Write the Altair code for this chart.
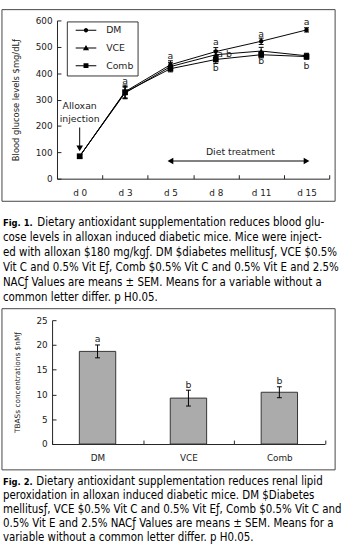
import altair as alt
import pandas as pd

# ---------------- Fig. 1: blood glucose over time ----------------
days = ["d 0", "d 3", "d 5", "d 8", "d 11", "d 15"]
series_names = ["DM", "VCE", "Comb"]
dm_glucose = [85, 330, 432, 482, 521, 564]
vce_glucose = [85, 325, 425, 470, 484, 466]
comb_glucose = [85, 328, 417, 452, 470, 463]
dm_sem = [6, 25, 15, 15, 12, 8]
vce_sem = [6, 22, 15, 15, 14, 10]
comb_sem = [6, 22, 12, 15, 12, 10]

# significance letters (placed at glucose levels)
letter_days = ["d 3", "d 5", "d 8", "d 8", "d 11", "d 11", "d 15", "d 15"]
letter_text = ["a", "a", "a", "b", "a", "b", "a", "b"]
letter_level = [371, 465, 517, 420, 550, 446, 595, 427]
side_letter_day = ["d 8"]
side_letter_text = ["a b"]
side_letter_level = [473]

# annotations
inject_day = ["d 0"]
inject_text = ["Alloxan", "injection"]
inject_text_level = [277, 227]
inject_arrow_level = [194, 120]
inject_head_level = [115]
diet_days = ["d 5", "d 15"]
diet_level = 67
diet_label = "Diet treatment"
diet_label_level = 100

# ---------------- Fig. 2: renal TBARS ----------------
groups = ["DM", "VCE", "Comb"]
tbars = [18.7, 9.27, 10.45]
tbars_sem = [1.3, 1.6, 1.1]
tbars_letters = ["a", "b", "b"]
tbars_letter_level = [21.1, 12.0, 12.7]

cap1_head = "Fig. 1."
cap1_lines = [
    "Dietary antioxidant supplementation reduces blood glu-",
    "cose levels in alloxan induced diabetic mice. Mice were inject-",
    "ed with alloxan $180 mg/kg\u0192. DM $diabetes mellitus\u0192, VCE $0.5%",
    "Vit C and 0.5% Vit E\u0192, Comb $0.5% Vit C and 0.5% Vit E and 2.5%",
    "NAC\u0192 Values are means \u00b1 SEM. Means for a variable without a",
    "common letter differ. p H0.05.",
]
cap2_head = "Fig. 2."
cap2_lines = [
    "Dietary antioxidant supplementation reduces renal lipid",
    "peroxidation in alloxan induced diabetic mice. DM $Diabetes",
    "mellitus\u0192, VCE $0.5% Vit C and 0.5% Vit E\u0192, Comb $0.5% Vit C and",
    "0.5% Vit E and 2.5% NAC\u0192 Values are means \u00b1 SEM. Means for a",
    "variable without a common letter differ. p H0.05.",
]

INK = "#222222"
FONT = "DejaVu Sans"
CAP_FONT = "DejaVu Sans Condensed, DejaVu Sans"

# ---------- tables ----------
rows = []
for name, vals, errs in [("DM", dm_glucose, dm_sem),
                         ("VCE", vce_glucose, vce_sem),
                         ("Comb", comb_glucose, comb_sem)]:
    for d, v, e in zip(days, vals, errs):
        rows.append({"day": d, "series": name, "v": v, "lo": v - e, "hi": v + e})
glu = pd.DataFrame(rows)

letters1 = pd.DataFrame({"day": letter_days, "label": letter_text, "v": letter_level})
side1 = pd.DataFrame({"day": side_letter_day, "label": side_letter_text, "v": side_letter_level})
inject_lbl = pd.DataFrame({"day": inject_day * 2, "label": inject_text, "v": inject_text_level})
inject_line = pd.DataFrame({"day": inject_day * 2, "v": inject_arrow_level})
inject_head = pd.DataFrame({"day": inject_day, "v": inject_head_level})
diet_line = pd.DataFrame({"day": diet_days, "v": [diet_level] * 2})
diet_heads = pd.DataFrame({"day": diet_days, "v": [diet_level] * 2, "dir": ["left", "right"]})
diet_lbl = pd.DataFrame({"day": ["d 8"], "label": [diet_label], "v": [diet_label_level]})

tb = pd.DataFrame({"group": groups, "v": tbars,
                   "lo": [m - e for m, e in zip(tbars, tbars_sem)],
                   "hi": [m + e for m, e in zip(tbars, tbars_sem)],
                   "label": tbars_letters, "lv": tbars_letter_level})

one_row = alt.Data(values=[{}])
inward = {"expr": "-4"}

# ---------- Fig. 1 encodings ----------
x_axis1 = alt.Axis(title=None, tickBand="extent", tickSize=inward, labelPadding=14,
                   labelFontSize=9, labelAngle=0, domainColor=INK, tickColor=INK,
                   labelColor=INK)
y_axis1 = alt.Axis(title="Blood glucose levels $mg/dL\u0192", values=[0, 100, 200, 300, 400, 500, 600],
                   tickSize=inward, labelPadding=9, labelFontSize=9, titleFontSize=8.5,
                   titleFontWeight="normal", titlePadding=15, domainColor=INK,
                   tickColor=INK, labelColor=INK, titleColor=INK)
xs1 = alt.Scale(domain=days, paddingInner=0, paddingOuter=0)
ys1 = alt.Scale(domain=[0, 600], nice=False)


def X1():
    return alt.X("day:N", sort=days, scale=xs1, axis=x_axis1)


def Y1(field):
    return alt.Y(f"{field}:Q", scale=ys1, axis=y_axis1)


W1, H1 = 277, 161

frame1 = alt.Chart(one_row).mark_rect(filled=False, color="#444", strokeWidth=1).encode(
    x=alt.value(-56), x2=alt.value(283), y=alt.value(-11), y2=alt.value(184))

lines = alt.Chart(glu).mark_line(color="black", strokeWidth=1).encode(
    x=X1(), y=Y1("v"), detail="series:N")
err_rule = alt.Chart(glu).mark_rule(color="black", strokeWidth=1).encode(
    x=X1(), y=Y1("lo"), y2="hi")
cap_lo = alt.Chart(glu).mark_tick(color="black", thickness=1, size=5, opacity=1).encode(
    x=X1(), y=Y1("lo"))
cap_hi = alt.Chart(glu).mark_tick(color="black", thickness=1, size=5, opacity=1).encode(
    x=X1(), y=Y1("hi"))
points = alt.Chart(glu).mark_point(filled=True, color="black", opacity=1).encode(
    x=X1(), y=Y1("v"),
    shape=alt.Shape("series:N", scale=alt.Scale(domain=series_names,
                                                range=["circle", "triangle-up", "square"]),
                    legend=None),
    size=alt.Size("series:N", scale=alt.Scale(domain=series_names, range=[20, 34, 30]),
                  legend=None))

# legend symbols: a thin bar (line stub) with the series marker centred on it
legend_paths = [
    "M-2.625,-0.13H2.625V0.13H-2.625ZM0.55,0A0.55,0.55,0,1,1,-0.55,0A0.55,0.55,0,1,1,0.55,0Z",
    "M-2.625,-0.13H2.625V0.13H-2.625ZM0,-0.75L0.78,0.55L-0.78,0.55Z",
    "M-2.625,-0.13H2.625V0.13H-2.625ZM-0.625,-0.625H0.625V0.625H-0.625Z",
]
legend_layer = alt.Chart(glu).transform_filter("false").mark_point(
    filled=True, color="black", size=64, opacity=1).encode(
    x=X1(), y=Y1("v"),
    shape=alt.Shape("series:N", scale=alt.Scale(domain=series_names, range=legend_paths),
                    legend=alt.Legend(orient="none", legendX=10, legendY=1, title=None,
                                      symbolSize=64, symbolFillColor="black",
                                      symbolOffset=10.5, labelOffset=15.5,
                                      labelFontSize=9.5, labelFont=FONT,
                                      labelColor=INK, padding=4, rowPadding=6,
                                      strokeColor="#333", fillColor="white",
                                      labelExpr="datum.label + '\u00a0\u00a0'")))

txt1 = alt.Chart(letters1).mark_text(fontSize=9.5, color=INK, font=FONT).encode(
    x=X1(), y=Y1("v"), text="label:N")
side_txt = alt.Chart(side1).mark_text(fontSize=9.5, color=INK, font=FONT, dx=9).encode(
    x=X1(), y=Y1("v"), text="label:N")
inj_txt = alt.Chart(inject_lbl).mark_text(fontSize=9.5, color=INK, font=FONT).encode(
    x=X1(), y=Y1("v"), text="label:N")
inj_line = alt.Chart(inject_line).mark_line(color="black", strokeWidth=1).encode(
    x=X1(), y=Y1("v"))
inj_head = alt.Chart(inject_head).mark_point(shape="triangle-down", filled=True,
                                             color="black", size=45, opacity=1).encode(
    x=X1(), y=Y1("v"))
diet_ln = alt.Chart(diet_line).mark_line(color="black", strokeWidth=1).encode(
    x=X1(), y=Y1("v"))
diet_hd = alt.Chart(diet_heads).mark_point(filled=True, color="black", size=45, opacity=1).encode(
    x=X1(), y=Y1("v"),
    shape=alt.Shape("dir:N", scale=alt.Scale(domain=["left", "right"],
                                             range=["triangle-left", "triangle-right"]),
                    legend=None))
diet_txt = alt.Chart(diet_lbl).mark_text(fontSize=9.5, color=INK, font=FONT, dx=25).encode(
    x=X1(), y=Y1("v"), text="label:N")


def caption(head, lines, y0, step, size, head_size, head_x, body_x):
    layers = [alt.Chart(one_row).mark_text(align="left", baseline="middle", font=CAP_FONT,
                                           fontSize=head_size, fontWeight="bold",
                                           color="black").encode(
        x=alt.value(head_x), y=alt.value(y0), text=alt.value(head))]
    for i, line in enumerate(lines):
        layers.append(alt.Chart(one_row).mark_text(
            align="left", baseline="middle", font=CAP_FONT, fontSize=size, color="black").encode(
            x=alt.value(body_x if i == 0 else head_x), y=alt.value(y0 + i * step),
            text=alt.value(line)))
    return layers


cap1 = caption(cap1_head, cap1_lines, 206, 15.2, 11.6, 9.5, -55, -20)

fig1 = alt.layer(frame1, lines, err_rule, cap_lo, cap_hi, points, legend_layer,
                 txt1, side_txt, inj_txt, inj_line, inj_head, diet_ln, diet_hd, diet_txt,
                 *cap1).resolve_scale(shape="independent", size="independent").properties(
    width=W1, height=H1)

# ---------- Fig. 2 ----------
W2, H2 = 277, 126
x_axis2 = alt.Axis(title=None, tickBand="extent", tickSize=inward, labelPadding=14,
                   labelFontSize=9, labelAngle=0, domainColor=INK, tickColor=INK,
                   labelColor=INK)
y_axis2 = alt.Axis(title="TBASs concentrations $nM\u0192", values=[0, 5, 10, 15, 20, 25],
                   offset=5, tickSize=inward, labelPadding=9, labelFontSize=9,
                   titleFontSize=7.5, titleFontWeight="normal", titlePadding=15,
                   domainColor=INK, tickColor=INK, labelColor=INK, titleColor=INK)
xs2 = alt.Scale(domain=groups, range=[-5, 272.5], paddingInner=0, paddingOuter=0)
ys2 = alt.Scale(domain=[0, 25], nice=False)


def X2():
    return alt.X("group:N", sort=groups, scale=xs2, axis=x_axis2)


def Y2(field):
    return alt.Y(f"{field}:Q", scale=ys2, axis=y_axis2)


frame2 = alt.Chart(one_row).mark_rect(filled=False, color="#444", strokeWidth=1).encode(
    x=alt.value(-56), x2=alt.value(283), y=alt.value(-11.7), y2=alt.value(152.3))
bars = alt.Chart(tb).mark_bar(size=37, fill="#ababab", stroke="#333", strokeWidth=1).encode(
    x=X2(), y=Y2("v"))
err2 = alt.Chart(tb).mark_rule(color="black", strokeWidth=1).encode(x=X2(), y=Y2("lo"), y2="hi")
cap2_lo = alt.Chart(tb).mark_tick(color="black", thickness=1, size=5, opacity=1).encode(
    x=X2(), y=Y2("lo"))
cap2_hi = alt.Chart(tb).mark_tick(color="black", thickness=1, size=5, opacity=1).encode(
    x=X2(), y=Y2("hi"))
txt2 = alt.Chart(tb).mark_text(fontSize=9.5, color=INK, font=FONT).encode(
    x=X2(), y=Y2("lv"), text="label:N")

cap2 = caption(cap2_head, cap2_lines, 164.5, 14.2, 11.6, 9.5, -55, -21)

fig2 = alt.layer(frame2, bars, err2, cap2_lo, cap2_hi, txt2, *cap2).properties(
    width=W2, height=H2)

chart = alt.vconcat(fig1, fig2, spacing=4).properties(
    padding={"left": 1, "top": 4, "right": 0, "bottom": 0}
).configure_view(stroke=None).configure_axis(
    labelFont=FONT, titleFont=FONT, grid=False
)

chart.save("out.html", embed_options={"renderer": "svg", "actions": False})
